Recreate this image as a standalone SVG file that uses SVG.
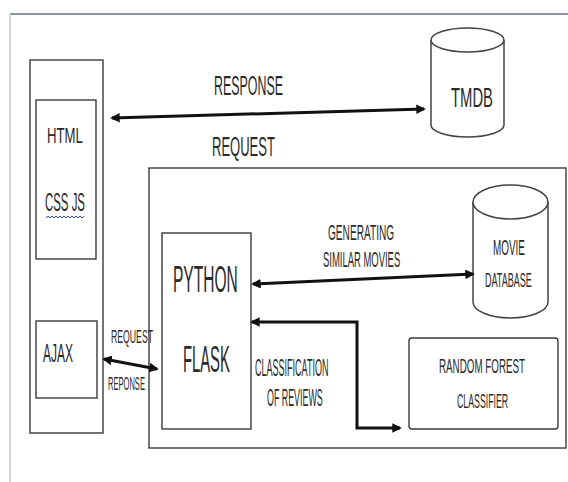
<svg xmlns="http://www.w3.org/2000/svg" width="568" height="482" viewBox="0 0 568 482">
<defs>
<style>
.box{fill:none;stroke:#3a3a3a;stroke-width:1.4}
.cyl{fill:#fff;stroke:#444;stroke-width:1.5}
.t{font-family:"Liberation Sans",Arial,sans-serif;fill:#2a2a2a}
.c{fill:none;stroke:#111;stroke-width:3}
</style>
<marker id="ah" viewBox="0 0 10 10" refX="8" refY="5" markerWidth="3.2" markerHeight="3.2" orient="auto-start-reverse" markerUnits="strokeWidth">
<path d="M0,0 L10,5 L0,10 z" fill="#111"/>
</marker>
</defs>
<rect width="568" height="482" fill="#fff"/>
<line x1="10" y1="14" x2="568" y2="14" stroke="#8a94a0" stroke-width="2"/>
<line x1="10" y1="14" x2="10" y2="482" stroke="#c8c8c8" stroke-width="1.5"/>

<g id="client">
<rect class="box" x="30" y="60" width="73" height="373"/>
</g>
<g id="html">
<rect class="box" x="36" y="100" width="60" height="159"/>
<text class="t" transform="translate(47,143) scale(0.6,1)" font-size="22">HTML</text>
<text class="t" transform="translate(45,211) scale(0.457,1)" font-size="25">CSS JS</text>
<path d="M46,218 l2,-2 l2,2 l2,-2 l2,2 l2,-2 l2,2 l2,-2 l2,2 l2,-2 l2,2 l2,-2 l2,2 l2,-2 l2,2 l2,-2 l2,2 l2,-2 l2,2 l2,-2" fill="none" stroke="#3344cc" stroke-width="1"/>
</g>
<g id="ajax">
<rect class="box" x="36" y="321" width="61" height="77"/>
<text class="t" transform="translate(43,362) scale(0.48,1)" font-size="25">AJAX</text>
</g>
<g id="tmdb">
<path class="cyl" d="M431,40 V125 A36.5,12 0 0 0 504,125 V40"/>
<ellipse class="cyl" cx="467.5" cy="40" rx="36.5" ry="12"/>
<text class="t" transform="translate(451,107) scale(0.53,1)" font-size="28">TMDB</text>
</g>
<g id="server">
<rect class="box" x="149" y="168" width="417" height="280"/>
</g>
<g id="flask">
<rect class="box" x="162" y="233" width="89" height="196"/>
<text class="t" transform="translate(173,292) scale(0.42,1)" font-size="37">PYTHON</text>
<text class="t" transform="translate(183,372) scale(0.4,1)" font-size="37">FLASK</text>
</g>
<g id="moviedb">
<path class="cyl" d="M473,202 V302 A37.5,16 0 0 0 548,302 V202"/>
<ellipse class="cyl" cx="510.5" cy="202" rx="37.5" ry="17"/>
<text class="t" transform="translate(493,255) scale(0.45,1)" font-size="22">MOVIE</text>
<text class="t" transform="translate(485,287) scale(0.43,1)" font-size="21">DATABASE</text>
</g>
<g id="rf">
<rect class="box" x="409" y="338" width="149" height="91" rx="3"/>
<text class="t" transform="translate(439,373) scale(0.467,1)" font-size="21">RANDOM FOREST</text>
<text class="t" transform="translate(457,408) scale(0.418,1)" font-size="21">CLASSIFIER</text>
</g>

<g id="connectors">
<line class="c" x1="112" y1="118" x2="424" y2="109" marker-start="url(#ah)" marker-end="url(#ah)"/>
<line class="c" x1="104" y1="359" x2="157" y2="369" marker-start="url(#ah)" marker-end="url(#ah)"/>
<line class="c" x1="253" y1="284" x2="473" y2="274" marker-start="url(#ah)" marker-end="url(#ah)"/>
<path class="c" d="M252,322 H357 V428 H400" marker-start="url(#ah)" marker-end="url(#ah)"/>
<text class="t" transform="translate(214,95) scale(0.46,1)" font-size="27">RESPONSE</text>
<text class="t" transform="translate(212,156) scale(0.465,1)" font-size="28">REQUEST</text>
<text class="t" transform="translate(111,343) scale(0.483,1)" font-size="18">REQUEST</text>
<text class="t" transform="translate(108,390) scale(0.42,1)" font-size="18">REPONSE</text>
<text class="t" transform="translate(328,240) scale(0.46,1)" font-size="22">GENERATING</text>
<text class="t" transform="translate(323,267) scale(0.43,1)" font-size="22">SIMILAR MOVIES</text>
<text class="t" transform="translate(255,376) scale(0.376,1)" font-size="24">CLASSIFICATION</text>
<text class="t" transform="translate(267,406) scale(0.37,1)" font-size="24">OF REVIEWS</text>
</g>
</svg>
